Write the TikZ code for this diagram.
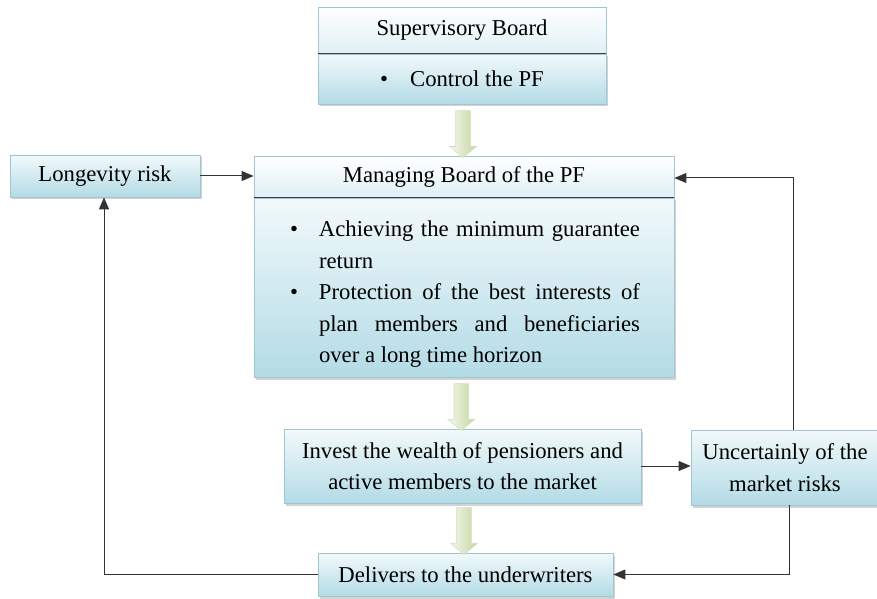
\documentclass[tikz,border=0pt]{standalone}
\usepackage{fontspec}
\setmainfont{Liberation Serif}
\usepackage{tikz}
\usetikzlibrary{shapes.arrows,shadows,calc,arrows.meta}

\definecolor{boxtop}{HTML}{F2F9FB}
\definecolor{boxbot}{HTML}{B3DBE6}
\definecolor{boxline}{HTML}{9FC6D2}
\definecolor{arrtop}{HTML}{F4F7EC}
\definecolor{arrbot}{HTML}{C5D6A0}
\definecolor{arrline}{HTML}{D3DEBC}

\begin{document}
\begin{tikzpicture}[x=1pt,y=1pt,
    font=\fontsize{22.7}{31.5}\selectfont,
    box/.style={draw=boxline, line width=0.8pt, top color=boxtop, bottom color=boxbot,
        drop shadow={shadow xshift=2pt,shadow yshift=-2.5pt,fill=black!35},
        inner sep=0pt, align=center},
    headbox/.style={draw=boxline, line width=0.8pt, top color=white, bottom color=boxtop!70!boxbot,
        inner sep=0pt, align=center},
    bigarrow/.style={single arrow, draw=arrline, line width=0.6pt, left color=arrtop, right color=arrbot,
        minimum width=26pt, single arrow head extend=6pt,
        single arrow tip angle=100, inner xsep=0pt, inner ysep=7pt, rotate=-90},
    link/.style={draw=black!80, line width=1pt, -{Triangle[length=12pt,width=10pt]}},
    line/.style={draw=black!80, line width=1pt}
]
\useasboundingbox (0,0) rectangle (877,598);

% supervisory board
\node[box, minimum width=288pt, minimum height=50pt] (supBody) at (462,519)
    {\textbullet\hspace{22pt}Control the PF};
\node[headbox, minimum width=288pt, minimum height=46pt, anchor=south] (supHead) at (supBody.north)
    {Supervisory Board};
\draw[black!75, line width=1pt] (supBody.north west) -- (supBody.north east);

% managing board
\node[box, minimum width=420pt, minimum height=179pt] (manBody) at (464,310.5)
    {\parbox{352pt}{\vspace*{14pt}\setlength{\parfillskip}{0pt plus 1fil}%
     \hangindent=31pt\hangafter=1\noindent\makebox[31pt][l]{\hspace{2pt}\textbullet}Achieving the minimum guarantee\linebreak return\par
     \hangindent=31pt\hangafter=1\noindent\makebox[31pt][l]{\hspace{2pt}\textbullet}Protection of the best interests of\linebreak plan members and beneficiaries\linebreak over a long time horizon\par}};
\node[headbox, minimum width=420pt, minimum height=41pt, anchor=south] (manHead) at (manBody.north)
    {Managing Board of the PF};
\draw[black!75, line width=1pt] (manBody.north west) -- (manBody.north east);

% side and lower boxes
\node[box, minimum width=190pt, minimum height=42pt] (longev) at (105,422) {Longevity risk};
\node[box, minimum width=357pt, minimum height=74pt] (invest) at (462.5,132)
    {Invest the wealth of pensioners and\\active members to the market};
\node[box, minimum width=188pt, minimum height=75pt] (uncert) at (785,130.5)
    {Uncertainly of the\\market risks};
\node[box, minimum width=295pt, minimum height=43pt] (deliv) at (465.5,23.5)
    {Delivers to the underwriters};

% green block arrows
\node[bigarrow, minimum height=47pt] (arrA) at ($(supBody.south)!0.5!(manHead.north)+(0,-1)$) {};
\node[bigarrow, minimum height=47pt] (arrB) at ($(manBody.south)!0.5!(invest.north)+(-2,-1)$) {};
\node[bigarrow, minimum height=47pt] (arrC) at ($(invest.south)!0.5!(deliv.north)$) {};

% connectors
\coordinate (upR) at (793,420);
\coordinate (dnR) at (789,23.5);
\coordinate (dnL) at (104,23.5);
\draw[link] (longev.east) -- (longev.east -| manHead.west);
\draw[link] (invest.east) -- (invest.east -| uncert.west);
\draw[link] (uncert.north -| upR) -- (upR) -- (upR -| manHead.east);
\draw[link] (uncert.south -| dnR) -- (dnR) -- (deliv.east);
\draw[link] (deliv.west) -- (dnL) -- (dnL |- longev.south);
%\draw[line] (deliv.west) -- (dnL);
\end{tikzpicture}
\end{document}
